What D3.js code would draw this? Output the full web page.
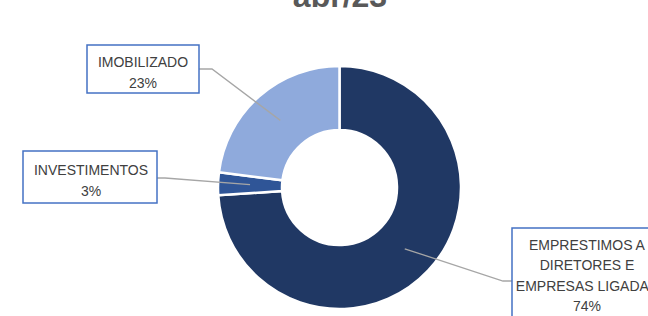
<!DOCTYPE html>
<html lang="pt">
<head>
<meta charset="utf-8">
<title>abr/23</title>
<script src="https://cdnjs.cloudflare.com/ajax/libs/d3/7.8.5/d3.min.js"></script>
<style>
  body { margin: 0; background: #fff; }
  svg { display: block; }
</style>
</head>
<body>
<script>
// data
var title = "abr/23";
var categories = ["EMPRESTIMOS A DIRETORES E EMPRESAS LIGADAS", "INVESTIMENTOS", "IMOBILIZADO"];
var labelLines = [["EMPRESTIMOS A", "DIRETORES E", "EMPRESAS LIGADAS"], ["INVESTIMENTOS"], ["IMOBILIZADO"]];
var values = [74, 3, 23];
var colors = ["#203864", "#2F5597", "#8FAADC"];

var w = 648, h = 316;
var cx = 339.5, cy = 187.5;
var outerR = 121.5, innerR = 57.5;

// label boxes: x, y, width, height, text center, first baseline, line step, elbow
var boxes = [
  {x: 512, y: 228, w: 150, h: 100, tx: 587, ty: 249.5, side: "left", elbow: 503, ly: 281},
  {x: 23, y: 151, w: 134, h: 52, tx: 91, ty: 175, side: "right", elbow: 165, ly: 178},
  {x: 87, y: 45, w: 112, h: 48, tx: 143, ty: 67, side: "right", elbow: 212, ly: 69}
];
var lineStep = 20.5;

var svg = d3.select("body").append("svg")
  .attr("width", w)
  .attr("height", h);

svg.append("text")
  .attr("x", 340)
  .attr("y", 7)
  .attr("text-anchor", "middle")
  .attr("font-family", "Liberation Sans, Arial, sans-serif")
  .attr("font-weight", "bold")
  .attr("font-size", 32)
  .attr("fill", "#595959")
  .text(title);

var total = d3.sum(values);
var pie = d3.pie().sort(null).value(function(d) { return d; });
var arcs = pie(values);

var arc = d3.arc().innerRadius(innerR).outerRadius(outerR);

var g = svg.append("g").attr("transform", "translate(" + cx + "," + cy + ")");

g.selectAll("path")
  .data(arcs)
  .enter()
  .append("path")
  .attr("d", arc)
  .attr("fill", function(d, i) { return colors[i]; })
  .attr("stroke", "#fff")
  .attr("stroke-width", 2.5);

// leader lines
svg.selectAll("polyline.leader")
  .data(arcs)
  .enter()
  .append("polyline")
  .attr("class", "leader")
  .attr("points", function(d, i) {
    var c = arc.centroid(d);
    var b = boxes[i];
    var edge = b.side === "left" ? b.x : b.x + b.w;
    return [[cx + c[0], cy + c[1]], [b.elbow, b.ly], [edge, b.ly]].join(" ");
  })
  .attr("fill", "none")
  .attr("stroke", "#A6A6A6")
  .attr("stroke-width", 1.3);

// label boxes
var lab = svg.selectAll("g.label")
  .data(arcs)
  .enter()
  .append("g")
  .attr("class", "label");

lab.append("rect")
  .attr("x", function(d, i) { return boxes[i].x; })
  .attr("y", function(d, i) { return boxes[i].y; })
  .attr("width", function(d, i) { return boxes[i].w; })
  .attr("height", function(d, i) { return boxes[i].h; })
  .attr("fill", "#fff")
  .attr("stroke", "#4472C4")
  .attr("stroke-width", 1.5);

lab.each(function(d, i) {
  var lines = labelLines[i].concat([Math.round(d.value / total * 100) + "%"]);
  var t = d3.select(this).append("text")
    .attr("text-anchor", "middle")
    .attr("font-family", "Liberation Sans, Arial, sans-serif")
    .attr("font-size", 14)
    .attr("fill", "#404040");
  t.selectAll("tspan")
    .data(lines)
    .enter()
    .append("tspan")
    .attr("x", boxes[i].tx)
    .attr("y", function(l, k) { return boxes[i].ty + k * lineStep; })
    .text(function(l) { return l; });
});
</script>
</body>
</html>
